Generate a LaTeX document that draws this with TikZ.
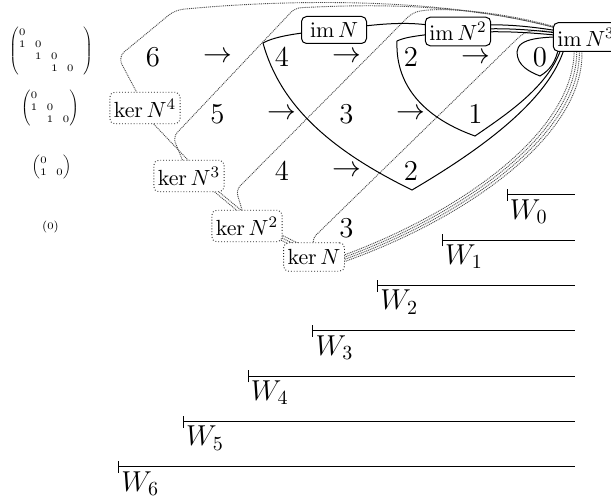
\documentclass[tikz,border=0pt]{standalone}
\usepackage{amsmath}
\usetikzlibrary{arrows.meta,calc}
\begin{document}
\begin{tikzpicture}[x=0.5pt,y=-0.5pt,
  kerline/.style={draw=black!70, dash pattern=on 0.5pt off 0.45pt, line width=0.45pt},
  imline/.style={draw=black, line width=0.5pt},
  kerbox/.style={draw=black!85, densely dotted, rounded corners=2.5pt, fill=white, inner xsep=2pt, inner ysep=3.3pt, line width=0.45pt, font=\fontsize{11}{13}\selectfont},
  imbox/.style={draw=black, rounded corners=2.5pt, fill=white, inner xsep=2pt, inner ysep=2.6pt, minimum width=32.5pt, minimum height=13.5pt, line width=0.5pt, font=\fontsize{11}{13}\selectfont},
  num/.style={font=\Large, inner sep=0pt},
  wline/.style={{Bar[width=6pt]}-, line width=0.5pt},
  wlab/.style={font=\Large, anchor=north west, inner sep=0pt},
  mat/.style={inner sep=0pt}
]
\useasboundingbox (0,0) rectangle (611,502);

% ---- anchor points of the labels
\path (145,108) coordinate (kN4) (189,176) coordinate (kN3)
      (247,226) coordinate (kN2) (314,257) coordinate (kN1)
      (334,30) coordinate (iN1) (458,31.5) coordinate (iN2) (586,37) coordinate (iN3);

% ---- kernel loops
\draw[kerline, rounded corners=4pt] (kN4) -- (118,57) -- (175,10) .. controls (300,-2) and (470,-3) .. (iN3);
\draw[kerline, rounded corners=3pt] (kN3) -- (173,137) -- (295,8) .. controls (390,3) and (490,5) .. (iN3);
\draw[kerline, rounded corners=3pt] (kN2) -- (236,190) -- (412,13) .. controls (440,6) and (520,12) .. (iN3);
\draw[kerline, rounded corners=2pt] (kN1) -- (313,238) -- (518,38) .. controls (530,28) and (545,30) .. (iN3);
% bundle from im N^3 down to ker N
\foreach \k in {0,1,2,3}{
  \draw[kerline] ($(iN3)+(-12+2.6*\k,8+1.3*\k)$) .. controls (579+2.6*\k,130+1.3*\k) and (459+2.6*\k,215+1.3*\k) .. ($(kN1)+(19+2.6*\k,2+1.3*\k)$);
}
% chain back through the kernels
\foreach \j in {-1,0,1}{
  \draw[kerline] ($(kN1)+(-9+1.1*\j,-7.5-2.2*\j)$) -- ($(kN2)+(18+1.1*\j,3.5-2.2*\j)$);
}
\foreach \j in {-1,1}{
  \draw[kerline] ($(kN2)+(0.9*\j,-9-1.1*\j)$) -- ($(kN3)+(11+0.9*\j,2-1.1*\j)$);
}
\draw[kerline] ($(kN3)+(6,-8.5)$) -- ($(kN4)+(2,9)$);

% ---- image loops
\draw[imline] (iN1) .. controls (290,33) and (272,38) .. (263,43)
   .. controls (280,105) and (330,150) .. (412,190)
   .. controls (480,150) and (550,100) .. (565,46);
\draw[imline] (iN1) .. controls (390,22) and (420,20) .. (iN2);
\draw[imline] (480,25) .. controls (510,24) and (535,27) .. (565,32);
\draw[imline] (480,29) .. controls (510,28) and (535,30) .. (565,34);
\draw[imline] (480,32) .. controls (510,31) and (535,33) .. (565,36);
\draw[imline] (iN2) .. controls (420,35) and (405,37) .. (397,41)
   .. controls (395,90) and (430,120) .. (475,136)
   .. controls (510,112) and (550,85) .. (562,46);
\draw[imline] (iN3) .. controls (540,36) and (518,38) .. (517,52)
   .. controls (517,66) and (530,72) .. (540,76)
   .. controls (550,70) and (556,62) .. (559,46);

% ---- boxes
\node[kerbox] (kerN4) at (kN4) {$\ker N^4$};
\node[kerbox] (kerN3) at (kN3) {$\ker N^3$};
\node[kerbox] (kerN2) at (kN2) {$\ker N^2$};
\node[kerbox] (kerN1) at (kN1) {$\ker N$};
\node[imbox] (imN1) at (iN1) {$\operatorname{im} N$};
\node[imbox] (imN2) at (iN2) {$\operatorname{im} N^2$};
\node[imbox] (imN3) at (iN3) {$\operatorname{im} N^3$};

% ---- numbers
\node[num] (a1) at (153,57) {6};
\node[num] (r11) at (217.5,57) {$\rightarrow$};
\node[num] (a2) at (282,57) {4};
\node[num] (r12) at (346.5,57) {$\rightarrow$};
\node[num] (a3) at (411,57) {2};
\node[num] (r13) at (475.5,58) {$\rightarrow$};
\node[num] (a4) at (540,57) {0};
\node[num] (b1) at (217.5,114) {5};
\node[num] (r21) at (282,114) {$\rightarrow$};
\node[num] (b2) at (346.5,114) {3};
\node[num] (r22) at (411,114) {$\rightarrow$};
\node[num] (b3) at (475.5,114) {1};
\node[num] (c1) at (282,171) {4};
\node[num] (r31) at (346.5,171) {$\rightarrow$};
\node[num] (c2) at (411,171) {2};
\node[num] (d1) at (346.5,228) {3};

% ---- matrices
\node[mat] (m4) at (51,51) {\tiny$\setlength\arraycolsep{2.3pt}\begin{pmatrix}0&&&&\\1&0&&&\\&1&0&&\\&&1&0&\end{pmatrix}$};
\node[mat] (m3) at (50,108) {\tiny$\setlength\arraycolsep{2.3pt}\begin{pmatrix}0&&\\1&0&\\&1&0\end{pmatrix}$};
\node[mat] (m2) at (51.5,167) {\tiny$\setlength\arraycolsep{2.3pt}\begin{pmatrix}0&\\1&0\end{pmatrix}$};
\node[mat] (m1) at (50.5,227) {\tiny$\begin{pmatrix}0\end{pmatrix}$};

% ---- W filtration
\foreach \k in {0,...,6}{
  \pgfmathsetmacro{\xa}{506.5-64.75*\k}
  \pgfmathsetmacro{\yy}{195+45.33*\k}
  \coordinate (wa\k) at (\xa,\yy);
  \coordinate (wb\k) at (575,\yy);
  \draw[wline] (wa\k) -- (wb\k);
  \node[wlab] (wl\k) at ($(wa\k)+(3,4)$) {$W_{\k}$};
}
\end{tikzpicture}
\end{document}
